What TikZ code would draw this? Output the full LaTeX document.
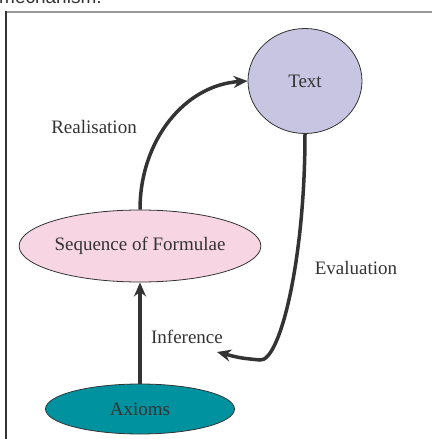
\documentclass[tikz,border=0pt]{standalone}
\usepackage{fontspec}
\setmainfont{Liberation Serif}
\newfontfamily\captionsans{Liberation Sans}
\usetikzlibrary{shapes.geometric,arrows.meta}
\definecolor{textfill}{HTML}{C8C5E2}
\definecolor{seqfill}{HTML}{F7D5E3}
\definecolor{axfill}{HTML}{00929E}
\definecolor{inkgray}{HTML}{333333}
\tikzstyle{blob}=[ellipse, draw=inkgray, line width=.8pt, inner sep=0pt, text=inkgray, font=\fontsize{19}{22}\selectfont]
\tikzstyle{step label}=[text=inkgray, font=\fontsize{19}{22}\selectfont]
\tikzstyle{flow}=[inkgray, line width=3.5pt]

\begin{document}
\begin{tikzpicture}[x=1pt,y=-1pt,>={Stealth[length=14pt,width=12pt]}]
    \useasboundingbox (0,0) rectangle (431,439);

    % Frame
    \node[anchor=base west, inner sep=0pt, text=inkgray, font=\captionsans\fontsize{19}{22}\selectfont] (caption) at (-1,3) {mechanism.};
    \draw[gray!80, line width=2pt] (6,12) -- (432,12);
    \draw[inkgray, line width=1.4pt] (6,11) -- (6,440);

    % States
    \node[blob, fill=textfill, minimum width=114pt, minimum height=105pt] (text) at (305,81) {Text};
    \node[blob, fill=seqfill, minimum width=211pt, minimum height=72pt] (seq) at (140,246) {Sequence of Formulae};
    \node[blob, fill=axfill, minimum width=189pt, minimum height=50pt] (axioms) at (140,409) {Axioms};

    % Transitions
    \coordinate (evalend) at (217,352);
    \draw[flow,->] (axioms.north) -- (seq.south);
    \draw[flow,->] (seq.north) .. controls (140,140) and (185,85) .. (text.west);
    \draw[flow,->] (text.south) .. controls (305,260) and (280,362) .. (260,360) .. controls (240,358) .. (evalend);

    % Labels
    \node[step label] (real) at (94,127) {Realisation};
    \node[step label] (eval) at (356,268) {Evaluation};
    \node[step label] (infer) at (187,337) {Inference};

\end{tikzpicture}
\end{document}
